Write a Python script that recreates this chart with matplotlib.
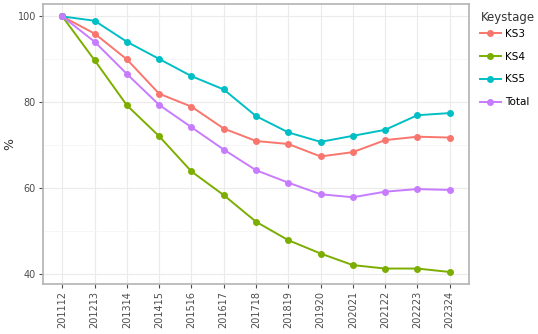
import matplotlib.pyplot as plt

years = ['201112', '201213', '201314', '201415', '201516', '201617', '201718',
         '201819', '201920', '202021', '202122', '202223', '202324']
ks3 = [100, 96.0, 90.0, 82.0, 79.0, 73.9, 71.0, 70.3, 67.4, 68.4, 71.2, 72.0, 71.8]
ks4 = [100, 89.8, 79.3, 72.1, 63.9, 58.4, 52.2, 47.9, 44.8, 42.1, 41.3, 41.3, 40.5]
ks5 = [100, 99.0, 94.1, 90.1, 86.1, 83.0, 76.8, 73.0, 70.8, 72.2, 73.6, 77.0, 77.5]
total = [100, 94.1, 86.6, 79.4, 74.2, 69.0, 64.2, 61.3, 58.6, 57.9, 59.2, 59.8, 59.6]

series = [('KS3', ks3, '#F8766D'), ('KS4', ks4, '#7CAE00'),
          ('KS5', ks5, '#00BFC4'), ('Total', total, '#C77CFF')]

fig = plt.figure(figsize=(5.38, 3.34), dpi=100)
ax = fig.add_axes([43 / 538, 50 / 334, 426 / 538, 280 / 334])

x = list(range(len(years)))
for name, vals, col in series:
    ax.plot(x, vals, color=col, lw=1.4, marker='o', ms=4, label=name)

ax.set_xlim(-0.6, 12.6)
ax.set_ylim(37.7, 102.9)
ax.set_xticks(x)
ax.set_xticklabels(years, rotation=90)
ax.set_yticks([40, 60, 80, 100])
ax.set_yticks([50, 70, 90], minor=True)
ax.grid(True, which='major', color='#ebebeb', lw=0.8)
ax.grid(True, which='minor', axis='y', color='#f3f3f3', lw=0.5)
ax.tick_params(axis='both', which='major', colors='#4d4d4d', labelsize=7, length=3, width=0.8, pad=2)
ax.tick_params(axis='y', which='minor', length=0)
for s in ax.spines.values():
    s.set_color('#b3b3b3')
    s.set_linewidth(1.2)
ax.set_axisbelow(True)
ax.set_ylabel('%', fontsize=9, color='#333333')
ax.yaxis.set_label_coords(-27 / 426, 0.5)

# legend title drawn separately so the gap below it is tighter
fig.text(481 / 538, 1 - 18 / 334, 'Keystage', fontsize=8.5, color='#333333',
         ha='left', va='center')
leg = fig.legend(loc='upper left', bbox_to_anchor=(479 / 538, 1 - 28 / 334),
                 frameon=False, fontsize=7.5, handlelength=2.0,
                 handletextpad=0.4, labelspacing=1.22, borderaxespad=0, borderpad=0.1)

plt.savefig('out.png', dpi=100)
